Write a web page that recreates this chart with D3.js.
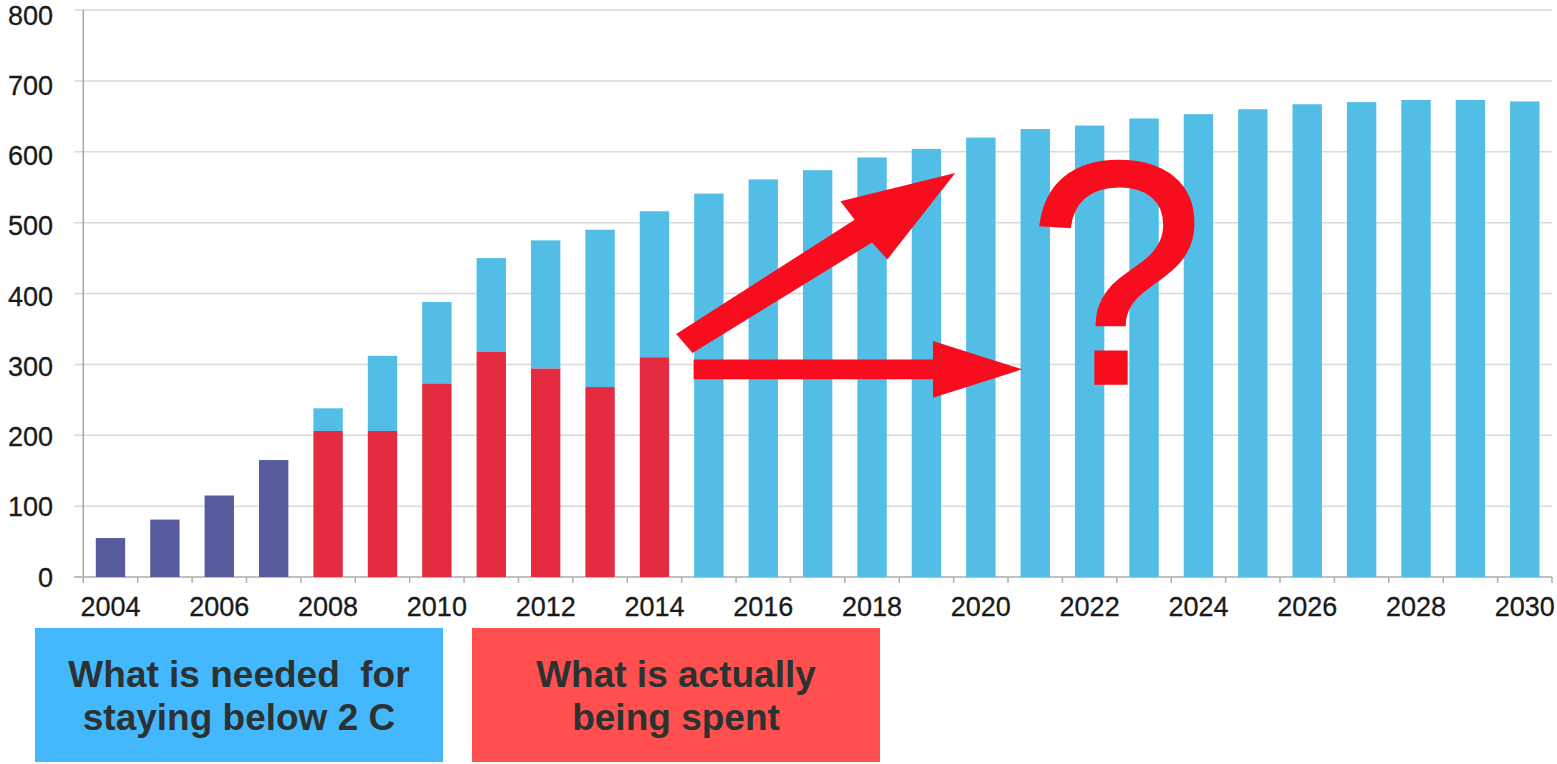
<!DOCTYPE html>
<html>
<head>
<meta charset="utf-8">
<script src="https://cdn.jsdelivr.net/npm/d3@7/dist/d3.min.js"></script>
<style>
  html, body { margin: 0; padding: 0; background: #fff; }
  svg { display: block; }
  text { font-family: "Liberation Sans", Arial, sans-serif; }
</style>
</head>
<body>
<svg id="chart" width="1557" height="764"></svg>
<script>
// ---- data ----
const years = [2004,2005,2006,2007,2008,2009,2010,2011,2012,2013,2014,2015,2016,2017,2018,2019,2020,2021,2022,2023,2024,2025,2026,2027,2028,2029,2030];
// historical / actually spent (2004-2007 historical, 2008-2014 spent)
const spent = [55,81,115,165,206,206,273,318,294,268,310,null,null,null,null,null,null,null,null,null,null,null,null,null,null,null,null];
// needed for staying below 2 C (total height)
const needed = [null,null,null,null,238,312,388,450,475,490,516,541,561,574,592,604,620,632,637,647,653,660,667,670,673,673,671];
const yTicks = [0,100,200,300,400,500,600,700,800];
const xTickLabels = [2004,2006,2008,2010,2012,2014,2016,2018,2020,2022,2024,2026,2028,2030];
const historicalEnd = 2007;
const legendLabels = [["What is needed  for","staying below 2 C"],["What is actually","being spent"]];

// annotation arrows in data units [year position, value]
const arrowUp = [[2014.40,343],[2017.68,504],[2017.42,530],[2019.53,570],[2018.28,448],[2018.00,472],[2014.70,316]];
const arrowRight = [[2014.72,307],[2019.12,307],[2019.12,333],[2020.76,293],[2019.12,253],[2019.12,279],[2014.72,279]];
const questionPos = [2022.49, 272];

(function () {
// ---- colors ----
const cHist = "#585c9f", cSpent = "#e52b40", cNeeded = "#52bee5", cAnno = "#f80d1e";

const svg = d3.select("#chart");
const mLeft = 83.3, mRight = 1552, mTop = 10, mBottom = 577;

const x = d3.scaleBand().domain(years).range([mLeft, mRight]).paddingInner(0.46).paddingOuter(0.23);
const step = x.step();
const xLin = d3.scaleLinear().domain([2004, 2005]).range([mLeft + step/2, mLeft + step*1.5]);
const y = d3.scaleLinear().domain([0, 800]).range([mBottom, mTop]);
// tick labels sit slightly lower toward the top, as in the source image
const yLab = d3.scaleLinear().domain([0, 800]).range([mBottom, mTop + 5]);

// gridlines
svg.append("g").selectAll("line").data(yTicks).join("line")
  .attr("x1", mLeft - 9).attr("x2", mRight)
  .attr("y1", d => y(d)).attr("y2", d => y(d))
  .attr("stroke", "#d9d9d9").attr("stroke-width", 1.5);

// y axis line
svg.append("line").attr("x1", mLeft).attr("x2", mLeft).attr("y1", y(800)).attr("y2", mBottom + 6)
  .attr("stroke", "#a8a8a8").attr("stroke-width", 1.5);
// x axis line
svg.append("line").attr("x1", mLeft - 9).attr("x2", mRight).attr("y1", mBottom).attr("y2", mBottom)
  .attr("stroke", "#b5b5b5").attr("stroke-width", 1.5);
// x ticks at band boundaries
const boundaries = years.map((d, i) => mLeft + step * (i + 1));
svg.append("g").selectAll("line").data(boundaries).join("line")
  .attr("x1", d => d).attr("x2", d => d).attr("y1", mBottom).attr("y2", mBottom + 6)
  .attr("stroke", "#b0b0b0").attr("stroke-width", 1.5);

// y labels
svg.append("g").selectAll("text").data(yTicks).join("text")
  .attr("x", 53).attr("y", d => yLab(d)).attr("dy", "0.36em")
  .attr("text-anchor", "end").attr("font-size", 27).attr("fill", "#1a1a1a")
  .attr("stroke", "#1a1a1a").attr("stroke-width", 0.3)
  .text(d => d);

// x labels
svg.append("g").selectAll("text").data(xTickLabels).join("text")
  .attr("x", d => x(d) + x.bandwidth()/2).attr("y", 616)
  .attr("text-anchor", "middle").attr("font-size", 27).attr("fill", "#1a1a1a")
  .attr("stroke", "#1a1a1a").attr("stroke-width", 0.3)
  .text(d => d);

// bars
const rows = years.map((yr, i) => ({ yr, spent: spent[i], needed: needed[i] }));
const bars = svg.append("g");
bars.selectAll("rect.needed").data(rows.filter(d => d.needed != null)).join("rect")
  .attr("class", "needed")
  .attr("x", d => x(d.yr)).attr("width", x.bandwidth())
  .attr("y", d => y(d.needed)).attr("height", d => y(d.spent || 0) - y(d.needed))
  .attr("fill", cNeeded);
bars.selectAll("rect.spent").data(rows.filter(d => d.spent != null)).join("rect")
  .attr("class", "spent")
  .attr("x", d => x(d.yr)).attr("width", x.bandwidth())
  .attr("y", d => y(d.spent)).attr("height", d => y(0) - y(d.spent))
  .attr("fill", d => d.yr <= historicalEnd ? cHist : cSpent);

// annotations
const line = d3.line().x(d => xLin(d[0])).y(d => y(d[1]));
svg.append("path").attr("d", line(arrowUp) + "Z").attr("fill", cAnno);
svg.append("path").attr("d", line(arrowRight) + "Z").attr("fill", cAnno);
svg.append("text")
  .attr("transform", `translate(${xLin(questionPos[0])},${y(questionPos[1]) - 1}) scale(1.0,1)`)
  .attr("text-anchor", "middle").attr("font-size", 318).attr("fill", cAnno)
  .attr("stroke", cAnno).attr("stroke-width", 3).attr("stroke-linejoin", "miter")
  .text("?");

// legend boxes
const boxes = [{ x: 35, fill: "#44b8fc", lines: legendLabels[0] }, { x: 472, fill: "#ff4f4f", lines: legendLabels[1] }];
const lg = svg.append("g").selectAll("g").data(boxes).join("g");
lg.append("rect").attr("x", d => d.x).attr("y", 628).attr("width", 408).attr("height", 134).attr("fill", d => d.fill);
lg.each(function(d) {
  d3.select(this).selectAll("text").data(d.lines).join("text")
    .attr("x", d.x + 204).attr("y", (t, i) => 687 + i * 43)
    .attr("text-anchor", "middle").attr("font-size", 37).attr("font-weight", "bold")
    .attr("fill", "#2b3231").style("white-space", "pre")
    .text(t => t);
});
})();
</script>
</body>
</html>
